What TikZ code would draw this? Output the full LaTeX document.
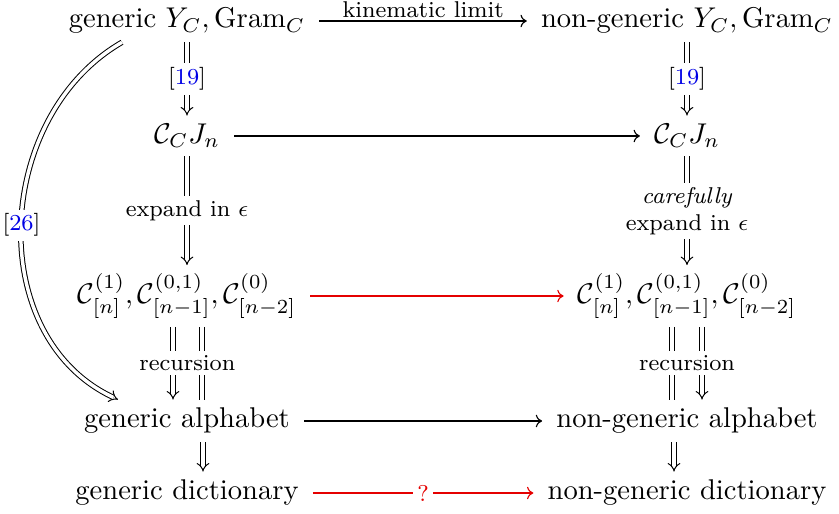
\documentclass[tikz,border=0pt]{standalone}
\usepackage{amsmath}
\usepackage{xcolor}
\usepackage{tikz}
\usetikzlibrary{arrows.meta}
\definecolor{cdRed}{rgb}{0.9,0,0}
\definecolor{cdBlue}{rgb}{0,0,0.9}

\begin{document}
\begin{tikzpicture}[x=0.35pt, y=0.35pt,
  obj/.style={font=\normalsize, inner sep=2.8pt},
  lbl/.style={font=\footnotesize, fill=white, inner sep=1.5pt, align=center},
  arr/.style={-{To[length=2.2pt,width=4.4pt]}, line width=0.4pt, shorten <=2pt, shorten >=2pt},
  imp/.style={-{Implies}, double, double distance=1.2pt, line width=0.35pt},
  eqn/.style={double, double distance=1.2pt, line width=0.35pt}]
\useasboundingbox (0,0) rectangle (839,-514);

\node[obj] (gY) at (187,-21) {generic $Y_C, \mathrm{Gram}_C$};
\node[obj] (nY) at (687,-21) {non-generic $Y_C, \mathrm{Gram}_C$};
\node[obj] (gJ) at (187,-136) {$\mathcal{C}_C J_n$};
\node[obj] (nJ) at (687,-136) {$\mathcal{C}_C J_n$};
\node[obj] (gC) at (187,-296) {$\mathcal{C}^{(1)}_{[n]}, \mathcal{C}^{(0,1)}_{[n-1]}, \mathcal{C}^{(0)}_{[n-2]}$};
\node[obj] (nC) at (687,-296) {$\mathcal{C}^{(1)}_{[n]}, \mathcal{C}^{(0,1)}_{[n-1]}, \mathcal{C}^{(0)}_{[n-2]}$};
\node[obj] (gA) at (187,-421) {generic alphabet};
\node[obj] (nA) at (687,-421) {non-generic alphabet};
\node[obj] (gD) at (187,-493) {generic dictionary};
\node[obj] (nD) at (687,-493) {non-generic dictionary};

% across
\draw[arr] (gY) -- node[lbl, above, fill=none, inner sep=1pt]{kinematic limit} (nY);
\draw[arr] (gJ) -- (nJ);
\draw[arr, cdRed] (gC) -- (nC);
\draw[arr] (gA) -- (nA);
\draw[arr, cdRed] (gD) -- node[lbl, text=cdRed]{?} (nD);

% down, generic side
\draw[imp] (gY) -- node[lbl]{[\textcolor{cdBlue}{19}]} (gJ);
\draw[imp] (gJ) -- node[lbl]{expand in $\epsilon$} (gC);
\draw[eqn] ([shift={(15,0)}]gC.south) -- ([shift={(15,0)}]gA.north);
\draw[imp] ([shift={(-14,0)}]gC.south) -- node[lbl, xshift=5pt]{recursion} ([shift={(-14,0)}]gA.north);
\draw[imp] ([shift={(16,0)}]gA.south) -- ([shift={(16,0)}]gD.north);

% down, non-generic side
\draw[imp] (nY) -- node[lbl]{[\textcolor{cdBlue}{19}]} (nJ);
\draw[imp] (nJ) -- node[lbl]{\textit{carefully}\\expand in $\epsilon$} (nC);
\draw[eqn] ([shift={(-15,0)}]nC.south) -- ([shift={(-15,0)}]nA.north);
\draw[imp] ([shift={(15,0)}]nC.south) -- node[lbl, xshift=-5.25pt]{recursion} ([shift={(15,0)}]nA.north);
\draw[imp] ([shift={(-13,0)}]nA.south) -- ([shift={(-13,0)}]nD.north);

% shortcut
\draw[imp] ([shift={(-65,0)}]gY.south) to[out=210, in=155, looseness=1.06]
  node[lbl]{[\textcolor{cdBlue}{26}]} ([shift={(-69,0)}]gA.north);
\end{tikzpicture}
\end{document}
